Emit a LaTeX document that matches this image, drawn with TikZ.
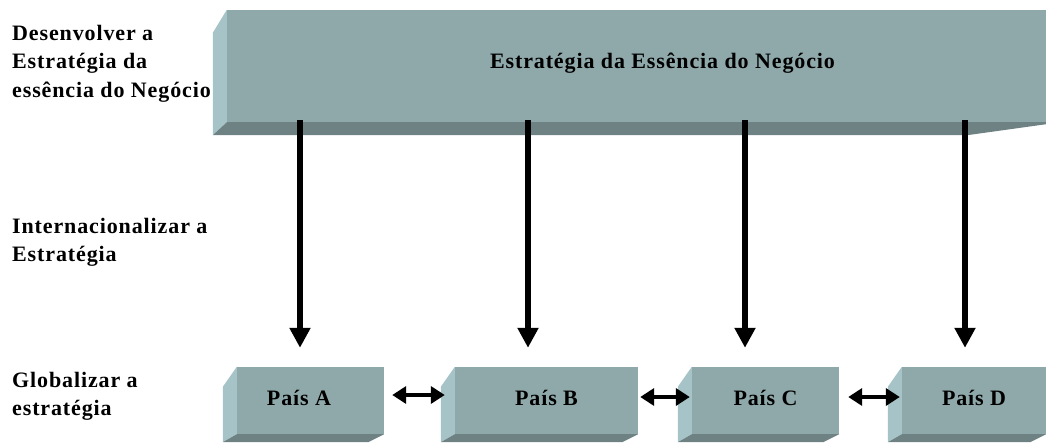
\documentclass[tikz,border=0pt]{standalone}
\usepackage{fontspec}
\setmainfont{Liberation Serif}[LetterSpace=4]
\usetikzlibrary{arrows.meta,calc}
\definecolor{face}{RGB}{143,169,171}
\definecolor{side}{RGB}{166,196,199}
\definecolor{under}{RGB}{110,130,132}
\begin{document}
\begin{tikzpicture}[x=1pt,y=-1pt,
  lbl/.style={font=\fontsize{22}{28.5}\selectfont\bfseries, align=left, anchor=north west, inner sep=0pt},
  front/.style={fill=face, draw=none, inner sep=0pt, font=\fontsize{22}{24}\selectfont\bfseries},
  box/.style={front, minimum width=147pt, minimum height=67pt, text height=13pt, text depth=4pt},
  varrow/.style={line width=5.5pt, -{Triangle[width=20pt,length=20pt]}, shorten <=-2pt, shorten >=19pt},
  harrow/.style={line width=4.5pt, {Triangle[width=17pt,length=14pt]}-{Triangle[width=17pt,length=14pt]}}
]
\useasboundingbox (0,0) rectangle (1046,442);
% core strategy block
\node[front, minimum width=819pt, minimum height=112pt, text height=8pt, text depth=4pt] (core) at (636.5,66) {\hspace*{52pt}Estratégia da Essência do Negócio};
\fill[side] (core.north west) -- ++(-14,23) -- ($(core.south west)+(-14,13)$) -- (core.south west) -- cycle;
\fill[under] (core.south west) -- (core.south east) -- ++(0,2) -- ($(core.south east)+(-79,13)$) -- ($(core.south west)+(-14,13)$) -- cycle;
% country blocks
\node[box] (A) at (310.5,400.5) {\hspace*{-23pt}País A};
\node[box, minimum width=183pt] (B) at (546.5,400.5) {País B};
\node[box] (C) at (765.5,400.5) {País C};
\node[box, minimum width=144pt] (D) at (974,400.5) {País D};
\foreach \n in {A,B,C,D}{
  \fill[side] (\n.north west) -- ++(-14,20) -- ($(\n.south west)+(-14,8)$) -- (\n.south west) -- cycle;
  \fill[under] (\n.south west) -- (\n.south east) -- ++(-16,8) -- ($(\n.south west)+(-14,8)$) -- cycle;
}
% left labels
\node[lbl] (l1) at (12,25) {Desenvolver a\\Estratégia da\\essência do Negócio};
\node[lbl] (l2) at (12,218) {Internacionalizar a\\Estratégia};
\node[lbl] (l3) at (12,372) {Globalizar a\\estratégia};
% vertical arrows
\path ([xshift=-10.5pt]A.north) coordinate (pA);
\path ([xshift=-18.5pt]B.north) coordinate (pB);
\path ([xshift=-20.5pt]C.north) coordinate (pC);
\path ([xshift=-9pt]D.north) coordinate (pD);
\foreach \p in {pA,pB,pC,pD}{
  \draw[varrow] (\p |- core.south) -- (\p);
}
% horizontal arrows
\draw[harrow, shorten <=8pt, shorten >=10pt] ([yshift=5.5pt]A.east) -- ([yshift=5.5pt]B.west);
\draw[harrow, shorten <=2pt, shorten >=2pt] ([yshift=3.5pt]B.east) -- ([yshift=3.5pt]C.west);
\draw[harrow, shorten <=9pt, shorten >=2pt] ([yshift=3.5pt]C.east) -- ([yshift=3.5pt]D.west);
\end{tikzpicture}
\end{document}
